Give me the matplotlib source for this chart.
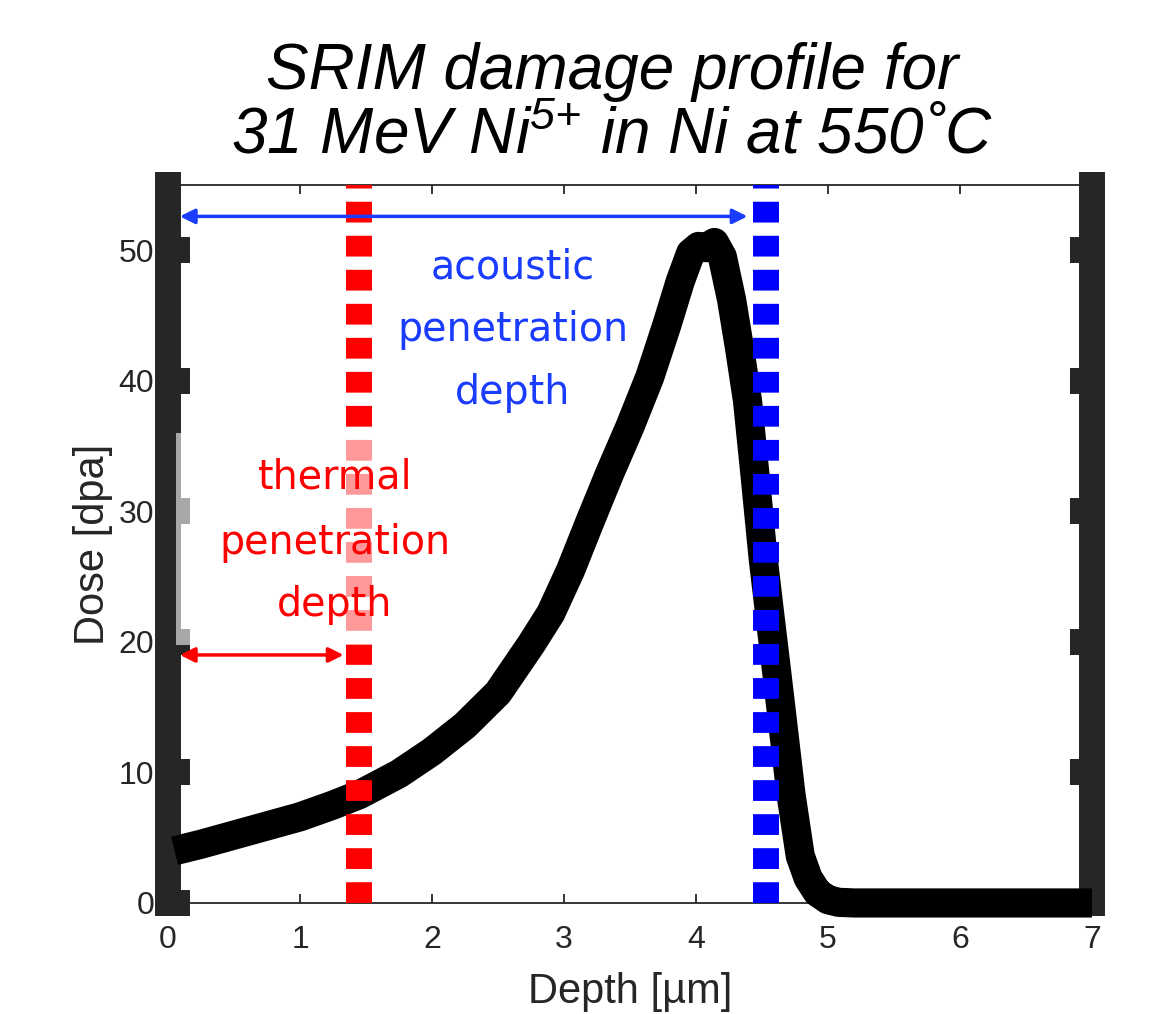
import numpy as np
import matplotlib
matplotlib.use('Agg')
import matplotlib.pyplot as plt
from matplotlib.patches import Rectangle

# SRIM damage profile
depth = [0.05, 0.25, 0.5, 0.75, 1.0, 1.25, 1.45, 1.75, 2.0, 2.25, 2.5, 2.75,
         2.9, 3.05, 3.2, 3.35, 3.5, 3.65, 3.78, 3.88, 3.96, 4.02, 4.08, 4.14,
         4.2, 4.27, 4.33, 4.39, 4.45, 4.51, 4.56, 4.61, 4.66, 4.72, 4.79, 4.85,
         4.92, 5.0, 5.08, 5.2, 5.5, 6.0, 6.5, 7.0]
dose = [4.0, 4.5, 5.2, 5.9, 6.6, 7.5, 8.3, 9.9, 11.6, 13.6, 16.1, 19.8,
        22.2, 25.5, 29.3, 33.0, 36.5, 40.3, 44.3, 47.6, 49.8, 50.3, 50.2, 50.6,
        49.5, 46.2, 42.5, 38.5, 32.5, 26.3, 22.0, 17.8, 13.5, 8.3, 3.6, 1.9,
        0.8, 0.25, 0.05, 0.0, 0.0, 0.0, 0.0, 0.0]

thermal_depth = 1.445
acoustic_depth = 4.53
xticks = [0, 1, 2, 3, 4, 5, 6, 7]
yticks = [0, 10, 20, 30, 40, 50]

plt.rcParams['font.family'] = ['Liberation Sans', 'DejaVu Sans']
plt.rcParams['mathtext.fontset'] = 'custom'
plt.rcParams['mathtext.rm'] = 'Liberation Sans:italic'
plt.rcParams['mathtext.it'] = 'Liberation Sans:italic'
plt.rcParams['mathtext.default'] = 'rm'

dark = '#262626'
fig = plt.figure(figsize=(11.7, 10.14), dpi=100)
ax = fig.add_axes([0.1436, 0.1095, 0.7897, 0.708])

ax.plot(depth, dose, color='k', lw=21, solid_capstyle='butt',
        solid_joinstyle='round', zorder=3, clip_on=False)
ax.plot([thermal_depth, thermal_depth], [0, 55], color='#ff0000', lw=18.7,
        dashes=(0.8, 0.51), dash_capstyle='butt', zorder=4)
ax.plot([acoustic_depth, acoustic_depth], [0, 55], color='#0000ff', lw=18.7,
        dashes=(0.8, 0.51), dash_capstyle='butt', zorder=4)

# semi-transparent white box behind the thermal label
ax.add_patch(Rectangle((0.06, 19.8), 2.4, 16.2, facecolor='white', alpha=0.6,
                       edgecolor='none', zorder=4.5))

ax.annotate('', xy=(0.09, 52.6), xytext=(4.39, 52.6),
            arrowprops=dict(arrowstyle='<|-|>', color='#1a3cff', lw=2.5,
                            mutation_scale=22, shrinkA=0, shrinkB=0), zorder=5)
ax.annotate('', xy=(0.09, 19.0), xytext=(1.33, 19.0),
            arrowprops=dict(arrowstyle='<|-|>', color='#ff0000', lw=2.5,
                            mutation_scale=22, shrinkA=0, shrinkB=0), zorder=5)

for word, yy in zip(['acoustic', 'penetration', 'depth'], [48.7, 43.9, 39.1]):
    ax.text(2.61, yy, word, color='#1a3cff', fontsize=28.5, family='DejaVu Sans',
            ha='center', va='center', zorder=6)
for word, yy in zip(['thermal', 'penetration', 'depth'], [32.6, 27.6, 22.8]):
    ax.text(1.265, yy, word, color='#ff0000', fontsize=28.5, family='DejaVu Sans',
            ha='center', va='center', zorder=6)

ax.set_xlim(0, 7)
ax.set_ylim(0, 55)
ax.set_xticks(xticks)
ax.set_yticks(yticks)

for side in ['left', 'right']:
    ax.spines[side].set_linewidth(18.7)
    ax.spines[side].set_color(dark)
for side in ['top', 'bottom']:
    ax.spines[side].set_linewidth(1.3)
    ax.spines[side].set_color(dark)

ax.tick_params(axis='x', direction='in', length=6.5, width=1.3, color=dark,
               top=True, labelsize=23, labelcolor=dark, pad=16)
ax.tick_params(axis='y', direction='in', length=16, width=18.7, color=dark,
               right=True, labelsize=23, labelcolor=dark, pad=10)

ax.set_xlabel('Depth [µm]', fontsize=30, color=dark, labelpad=12)
ax.set_ylabel('Dose [dpa]', fontsize=30, color=dark, labelpad=4)

fig.text(0.523, 0.929, 'SRIM damage profile for', fontsize=46,
         style='italic', ha='center', va='center')
fig.text(0.523, 0.865, r'31 MeV Ni$^{5{+}}$ in Ni at 550˚C', fontsize=46,
         style='italic', ha='center', va='center')

fig.savefig('out.png', dpi=100)
